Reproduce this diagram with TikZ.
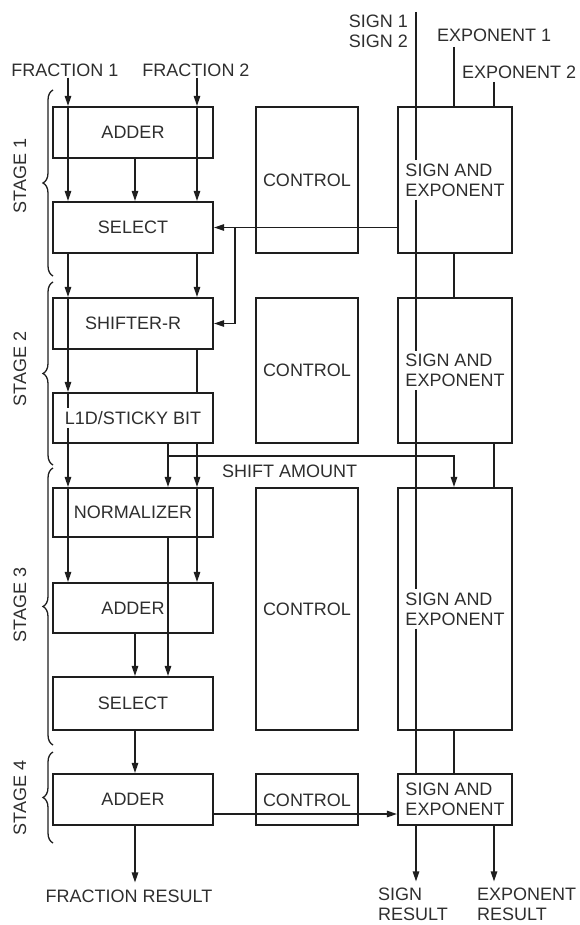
\documentclass[tikz,border=0pt]{standalone}
\usepackage{fontspec}
\setmainfont{Liberation Sans}
\usetikzlibrary{arrows.meta,decorations.pathreplacing,calc}
\definecolor{ink}{HTML}{1E1E1E}
\definecolor{txtc}{HTML}{2E2E2E}
\begin{document}
\begin{tikzpicture}[x=1pt,y=-1pt,
  box/.style={draw=ink, line width=2.2pt, inner sep=0pt},
  lbl/.style={text=txtc, font=\fontsize{18}{20}\selectfont, inner sep=1pt},
  btxt/.style={lbl, inner sep=3pt},
  wire/.style={draw=ink, line width=1.3pt},
  arr/.style={wire, -{Triangle[length=10pt,width=6.5pt]}},
  stagebrace/.style={draw=ink, line width=1.3pt, decorate, decoration={brace, amplitude=10pt}},
]
\useasboundingbox (0,0) rectangle (579,925);

% column coordinates
\coordinate (c1) at (68,0);
\coordinate (c2) at (135,0);
\coordinate (c3) at (168,0);
\coordinate (c4) at (197,0);
\coordinate (bx) at (235,0);
\coordinate (sx) at (416,0);
\coordinate (e1x) at (454,0);
\coordinate (e2x) at (494,0);

% fraction boxes
\node[box, minimum width=160, minimum height=51] (add1) at (133,132.5) {};
\node[box, minimum width=160, minimum height=51] (sel1) at (133,227.5) {};
\node[box, minimum width=160, minimum height=51] (shr)  at (133,323.5) {};
\node[box, minimum width=160, minimum height=50] (l1d)  at (133,418) {};
\node[box, minimum width=160, minimum height=49] (norm) at (133,512.5) {};
\node[box, minimum width=160, minimum height=50] (add3) at (133,608) {};
\node[box, minimum width=160, minimum height=53] (sel3) at (133,703.5) {};
\node[box, minimum width=160, minimum height=51] (add4) at (133,799.5) {};

% control boxes
\node[box, minimum width=102, minimum height=146] (ctl1) at (307,180) {};
\node[box, minimum width=102, minimum height=145] (ctl2) at (307,370.5) {};
\node[box, minimum width=102, minimum height=242] (ctl3) at (307,609) {};
\node[box, minimum width=102, minimum height=51]  (ctl4) at (307,799.5) {};

% sign and exponent boxes
\node[box, minimum width=114, minimum height=146] (se1) at (455,180) {};
\node[box, minimum width=114, minimum height=145] (se2) at (455,370.5) {};
\node[box, minimum width=114, minimum height=242] (se3) at (455,609) {};
\node[box, minimum width=114, minimum height=51]  (se4) at (455,799.5) {};

% box texts
\node[btxt] (t-add1) at (add1) {ADDER};
\node[btxt] (t-sel1) at (sel1) {SELECT};
\node[btxt] (t-shr) at (shr) {SHIFTER-R};
\node[btxt] (t-l1d) at (l1d) {L1D/STICKY BIT};
\node[btxt] (t-norm) at (norm) {NORMALIZER};
\node[btxt] (t-add3) at (add3) {ADDER};
\node[btxt] (t-sel3) at (sel3) {SELECT};
\node[btxt] (t-add4) at (add4) {ADDER};
\node[lbl] (t-ctl1) at (ctl1) {CONTROL};
\node[lbl] (t-ctl2) at (ctl2) {CONTROL};
\node[lbl] (t-ctl3) at (ctl3) {CONTROL};
\node[lbl] (t-ctl4) at (307,800) {CONTROL};
\node[btxt, align=left] (t-se1) at (se1) {SIGN AND\\EXPONENT};
\node[btxt, align=left] (t-se2) at (se2) {SIGN AND\\EXPONENT};
\node[btxt, align=left] (t-se3) at (se3) {SIGN AND\\EXPONENT};
\node[btxt, align=left] (t-se4) at (se4) {SIGN AND\\EXPONENT};

% outside labels
\node[lbl] (f1) at (65,70) {FRACTION 1};
\node[lbl] (f2) at (196,70) {FRACTION 2};
\node[lbl, align=right, anchor=east] (sg) at (409,31) {SIGN 1\\SIGN 2};
\node[lbl, anchor=west] (x1) at (436,35) {EXPONENT 1};
\node[lbl, anchor=west] (x2) at (461,72) {EXPONENT 2};
\node[lbl] (fr) at (129,896) {FRACTION RESULT};
\node[lbl, align=left, anchor=west] (sr) at (377,904) {SIGN\\RESULT};
\node[lbl, align=left, anchor=west] (er) at (476,904) {EXPONENT\\RESULT};
\node[lbl, anchor=west] (sam) at (221,471) {SHIFT AMOUNT};

\coordinate (stop) at (416,12);
\coordinate (e1top) at (454,47);
\coordinate (e2top) at (494,82);
\coordinate (sa) at (168,456);
\coordinate (h4) at (0,814);

% fraction path
\draw[arr] (f1.south -| c1) -- (add1.north -| c1);
\draw[arr] (add1.north -| c1) -- (sel1.north -| c1);
\draw[arr] (f2.south -| c4) -- (add1.north -| c4);
\draw[arr] (add1.north -| c4) -- (sel1.north -| c4);
\draw[arr] (add1.south -| c2) -- (sel1.north -| c2);
\draw[arr] (sel1.south -| c1) -- (shr.north -| c1);
\draw[arr] (shr.north -| c1) -- (l1d.north -| c1);
\draw[arr] (sel1.south -| c4) -- (shr.north -| c4);
\draw[wire] (shr.south -| c4) -- (l1d.north -| c4);
\draw[wire] (l1d.north -| c1) -- (t-l1d.north -| c1);
\draw[arr] (t-l1d.south -| c1) -- (norm.north -| c1);
\draw[arr] (norm.north -| c1) -- (add3.north -| c1);
\draw[arr] (l1d.south -| c4) -- (norm.north -| c4);
\draw[arr] (norm.north -| c4) -- (add3.north -| c4);
\draw[arr] (l1d.south -| c3) -- (norm.north -| c3);
\draw[arr] (sa) -| (se3.north -| e1x);
\draw[arr] (norm.south -| c3) -- (sel3.north -| c3);
\draw[arr] (add3.south -| c2) -- (sel3.north -| c2);
\draw[arr] (sel3.south -| c2) -- (add4.north -| c2);
\draw[arr, shorten >=6pt] (add4.south -| c2) -- (fr.north -| c2);

% control / exponent cross connections
\draw[arr] (se1.west |- sel1.east) -- (sel1.east);
\draw[arr] (bx |- sel1.east) |- (shr.east);
\draw[arr] (add4.east |- h4) -- (se4.west |- h4);

% sign and exponent column (sign line broken around the box texts)
\draw[wire] (stop) -- (t-se1.north -| sx);
\draw[wire] (t-se1.south -| sx) -- (t-se2.north -| sx);
\draw[wire] (t-se2.south -| sx) -- (t-se3.north -| sx);
\draw[wire] (t-se3.south -| sx) -- (se4.north -| sx);
\draw[wire] (e1top) -- (se1.north -| e1x);
\draw[wire] (e2top) -- (se1.north -| e2x);
\draw[wire] (se1.south -| e1x) -- (se2.north -| e1x);
\draw[wire] (se2.south -| e2x) -- (se3.north -| e2x);
\draw[wire] (se3.south -| e1x) -- (se4.north -| e1x);
\draw[arr, shorten >=5pt] (se4.south -| sx) -- (sr.north -| sx);
\draw[arr, shorten >=5pt] (se4.south -| e2x) -- (er.north -| e2x);

% stage braces and labels
\draw[stagebrace] (53,276) -- (53,90);
\draw[stagebrace] (53,465) -- (53,282);
\draw[stagebrace] (53,745) -- (53,468);
\draw[stagebrace] (53,843) -- (53,752);
\node[lbl, rotate=90] (st1) at (20,176) {STAGE 1};
\node[lbl, rotate=90] (st2) at (20,369) {STAGE 2};
\node[lbl, rotate=90] (st3) at (20,605) {STAGE 3};
\node[lbl, rotate=90] (st4) at (20,798) {STAGE 4};
\end{tikzpicture}
\end{document}
